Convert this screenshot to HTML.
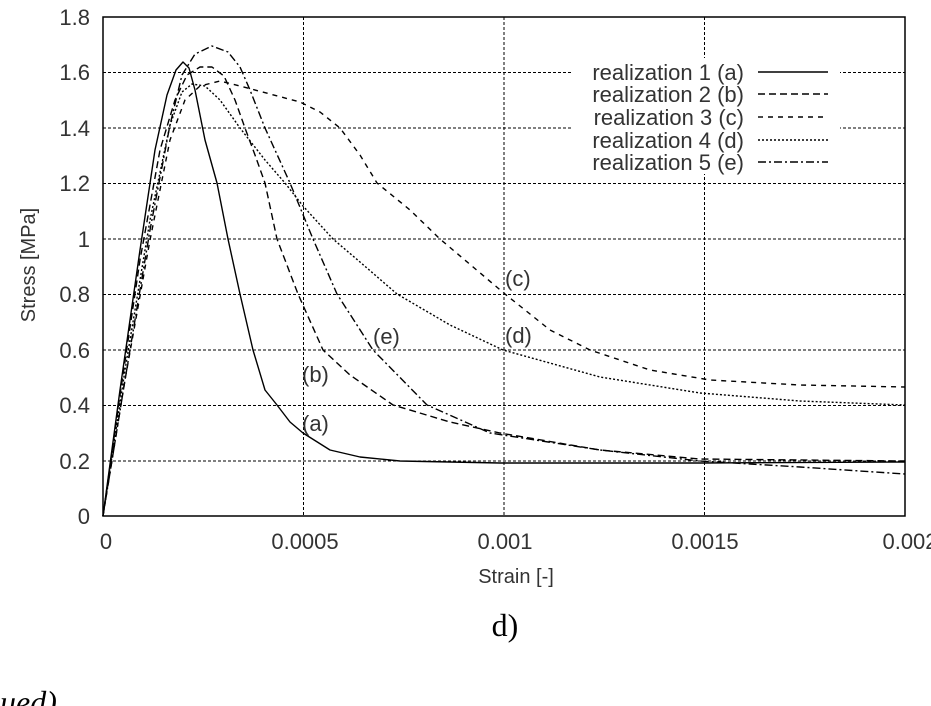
<!DOCTYPE html>
<html><head><meta charset="utf-8"><style>
html,body{margin:0;padding:0;background:#fff;}
svg{display:block;}
</style></head><body>
<svg width="931" height="706" viewBox="0 0 931 706" xmlns="http://www.w3.org/2000/svg">
<rect width="931" height="706" fill="#fff"/>
<g stroke="#000" stroke-width="1" stroke-dasharray="3,2" fill="none">
<line x1="103" y1="461" x2="905" y2="461"/>
<line x1="103" y1="405.5" x2="905" y2="405.5"/>
<line x1="103" y1="350" x2="905" y2="350"/>
<line x1="103" y1="294.5" x2="905" y2="294.5"/>
<line x1="103" y1="239" x2="905" y2="239"/>
<line x1="103" y1="183.5" x2="905" y2="183.5"/>
<line x1="103" y1="128" x2="905" y2="128"/>
<line x1="103" y1="72.5" x2="905" y2="72.5"/>
<line x1="303.5" y1="17" x2="303.5" y2="516"/>
<line x1="504" y1="17" x2="504" y2="516"/>
<line x1="704.5" y1="17" x2="704.5" y2="516"/>
</g>
<rect x="572" y="58" width="268" height="116" fill="#fff"/>
<rect x="103" y="17" width="802" height="499" fill="none" stroke="#000" stroke-width="1.5"/>
<g fill="none" stroke="#000" stroke-width="1.4" stroke-linejoin="round">
<polyline points="103,516 120,390 140,250 155,150 167,95 176,70 183,62 189,68 195,90 205,140 217,183 228,239 240,294 253,350 265,390 277,405 290,422 303,433 330,450 360,457 400,461 500,463 700,463 905,462"/>
<polyline stroke-dasharray="7,4" points="103,516 120,395 140,260 160,150 175,100 187,75 200,67 212,67 224,76 235,100 245,128 255,155 265,183 277,239 298,294 323,350 350,375 393,405 450,422 500,433 600,450 700,459 905,461"/>
<polyline stroke-dasharray="5,5" points="103,516 125,380 150,240 170,140 185,100 200,86 220,81 240,86 270,94 300,102 320,112 340,128 360,155 377,183 410,210 440,239 505,294 550,330 590,350 650,370 710,380 800,385 905,387"/>
<polyline stroke-dasharray="2,2" points="103,516 125,370 150,220 170,125 182,92 192,84 205,86 220,100 240,128 265,160 285,183 303,206 333,239 360,262 397,294 450,325 503,350 600,377 700,393 800,401 905,405"/>
<polyline stroke-dasharray="8,3,2,3" points="103,516 125,380 150,230 170,125 182,75 195,54 212,46 228,52 240,67 250,90 265,128 290,183 313,239 337,294 373,350 427,405 490,433 600,450 700,461 800,467 905,474"/>
</g>
<g font-family="Liberation Sans, sans-serif" font-size="22" fill="#333">
<g text-anchor="end">
<text x="90" y="524">0</text><text x="90" y="469">0.2</text><text x="90" y="413">0.4</text>
<text x="90" y="358">0.6</text><text x="90" y="302">0.8</text><text x="90" y="247">1</text>
<text x="90" y="191">1.2</text><text x="90" y="136">1.4</text><text x="90" y="80">1.6</text><text x="90" y="25">1.8</text>
</g>
<g text-anchor="middle">
<text x="106" y="549">0</text><text x="305" y="549">0.0005</text><text x="505" y="549">0.001</text>
<text x="705" y="549">0.0015</text><text x="910" y="549">0.002</text>
<text x="516" y="583" font-size="20">Strain [-]</text>
</g>
<text transform="translate(35,265) rotate(-90)" text-anchor="middle" font-size="20">Stress [MPa]</text>
<text x="302" y="431">(a)</text><text x="302" y="382">(b)</text><text x="505" y="286">(c)</text>
<text x="505" y="343">(d)</text><text x="373" y="344">(e)</text>
<g text-anchor="end">
<text x="744" y="80">realization 1 (a)</text><text x="744" y="102">realization 2 (b)</text>
<text x="744" y="125">realization 3 (c)</text><text x="744" y="148">realization 4 (d)</text>
<text x="744" y="170">realization 5 (e)</text>
</g>
</g>
<g fill="none" stroke="#000" stroke-width="1.4">
<line x1="758" y1="72" x2="828" y2="72"/>
<line x1="758" y1="94" x2="828" y2="94" stroke-dasharray="7,4"/>
<line x1="758" y1="117" x2="828" y2="117" stroke-dasharray="5,5"/>
<line x1="758" y1="140" x2="828" y2="140" stroke-dasharray="2,2"/>
<line x1="758" y1="162" x2="828" y2="162" stroke-dasharray="8,3,2,3"/>
</g>
<text x="505" y="636" text-anchor="middle" font-family="Liberation Serif, serif" font-size="32">d)</text>
<text x="-16" y="713" font-family="Liberation Serif, serif" font-style="italic" font-size="32">nued)</text>
</svg>
</body></html>
